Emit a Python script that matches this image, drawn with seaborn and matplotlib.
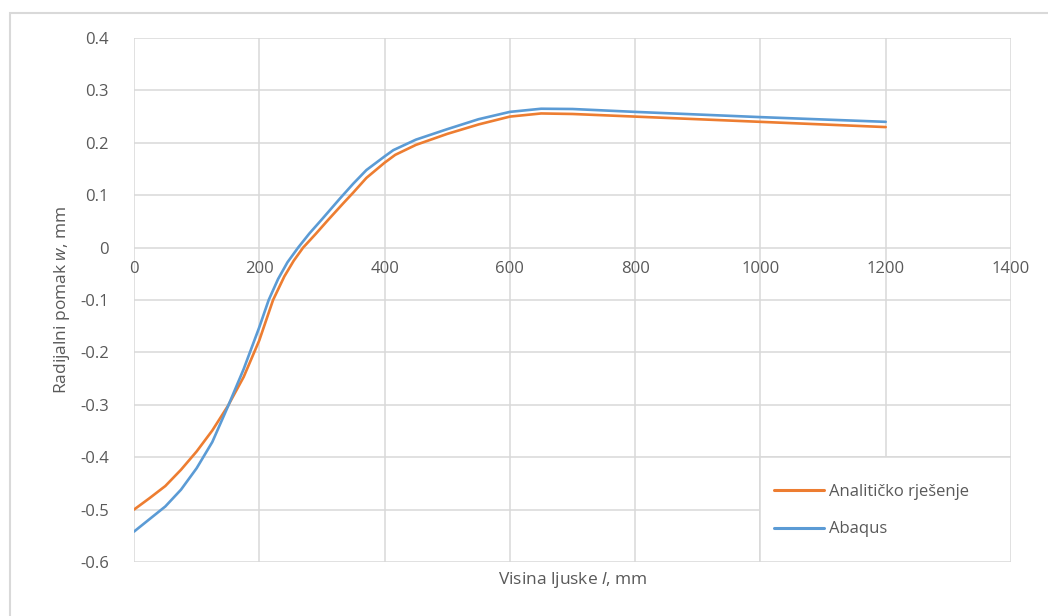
import matplotlib
matplotlib.use("Agg")
import matplotlib.pyplot as plt
import matplotlib.patches as patches
import seaborn as sns
import pandas as pd

# values
visina_analiticko = [0, 25, 50, 75, 100, 125, 150, 175, 200, 222, 240, 255, 270, 290,
                     310, 334, 350, 371, 400, 417, 450, 500, 550, 600, 650, 700, 800,
                     900, 1000, 1100, 1200]
pomak_analiticko = [-0.500, -0.478, -0.455, -0.424, -0.389, -0.349, -0.302, -0.247,
                    -0.177, -0.100, -0.055, -0.025, 0.000, 0.026, 0.053, 0.0845, 0.105,
                    0.133, 0.162, 0.177, 0.196, 0.217, 0.235, 0.250, 0.256, 0.255,
                    0.250, 0.245, 0.240, 0.235, 0.230]

visina_abaqus = [0, 25, 50, 75, 100, 125, 150, 175, 200, 215, 230, 245, 262, 280, 300,
                 329, 350, 371, 400, 414, 450, 500, 550, 600, 650, 700, 800, 900, 1000,
                 1100, 1200]
pomak_abaqus = [-0.542, -0.518, -0.494, -0.462, -0.421, -0.371, -0.303, -0.232, -0.152,
                -0.100, -0.060, -0.028, 0.000, 0.027, 0.054, 0.094, 0.122, 0.148, 0.174,
                0.186, 0.206, 0.226, 0.245, 0.259, 0.265, 0.2645, 0.259, 0.254, 0.249,
                0.2445, 0.240]

naziv_serija = ["Analitičko rješenje", "Abaqus"]
boje = ["#ED7D31", "#5B9BD5"]
x_ticks = [0, 200, 400, 600, 800, 1000, 1200, 1400]
y_ticks = [-0.6, -0.5, -0.4, -0.3, -0.2, -0.1, 0, 0.1, 0.2, 0.3, 0.4]

df = pd.concat([
    pd.DataFrame({"l": visina_analiticko, "w": pomak_analiticko, "serija": naziv_serija[0]}),
    pd.DataFrame({"l": visina_abaqus, "w": pomak_abaqus, "serija": naziv_serija[1]}),
])

sns.set_style("white")
plt.rcParams["font.family"] = ["Open Sans", "DejaVu Sans"]
plt.rcParams["mathtext.fontset"] = "custom"
plt.rcParams["mathtext.it"] = "Open Sans:italic"
plt.rcParams["mathtext.rm"] = "Open Sans"

text_color = "#595959"
grid_color = "#D9D9D9"

fig = plt.figure(figsize=(10.48, 6.16), dpi=100)
ax = fig.add_axes([134 / 1048, 1 - 562 / 616, 877 / 1048, 524 / 616])

sns.lineplot(data=df, x="l", y="w", hue="serija", hue_order=naziv_serija,
             palette=boje, sort=False, linewidth=1.9, ax=ax, legend=False)

ax.set_xlim(0, 1400)
ax.set_ylim(-0.6, 0.4)
ax.set_xticks(x_ticks)
ax.set_xticklabels([str(v) for v in x_ticks])
ax.set_yticks(y_ticks)
ax.set_yticklabels([f"{v:g}" for v in y_ticks])
ax.grid(True, color=grid_color, linewidth=1.1)
for s in ax.spines.values():
    s.set_visible(False)
ax.spines["bottom"].set_position(("data", 0))
ax.tick_params(axis="both", length=0, labelsize=12, labelcolor=text_color)
ax.tick_params(axis="x", pad=10)
ax.tick_params(axis="y", pad=18)

ax.set_xlabel("")
ax.set_ylabel("")
fig.text(573 / 1048, 1 - 580 / 616, r"Visina ljuske $\mathit{l}$, mm", ha="center",
         va="center", fontsize=12.5, color=text_color)
fig.text(62 / 1048, 1 - 300 / 616, r"Radijalni pomak $\mathit{w}$, mm", ha="center",
         va="center", rotation=90, fontsize=12.5, color=text_color)

# legend box, left edge on the x=1000 gridline
ax.add_patch(patches.Rectangle((1000 / 1400, 0.0), 400 / 1400, 0.2, transform=ax.transAxes,
                               facecolor="white", edgecolor=grid_color, linewidth=1.1,
                               zorder=3))
handles = [plt.Line2D([], [], color=c, linewidth=2.2) for c in boje]
leg = ax.legend(handles, naziv_serija, loc="center left", bbox_to_anchor=(0.730, 0.098),
                frameon=False, fontsize=12, handlelength=3.0, handletextpad=0.3,
                labelspacing=1.3, borderpad=0, borderaxespad=0)
for t in leg.get_texts():
    t.set_color(text_color)
leg.set_zorder(4)

# outer chart border
fig.patches.append(patches.Rectangle((10 / 1048, -0.05), 1.1, 1 - 12.7 / 616 + 0.05,
                                     transform=fig.transFigure, facecolor="none",
                                     edgecolor=grid_color, linewidth=1.5))

fig.savefig("out.png", dpi=100)
